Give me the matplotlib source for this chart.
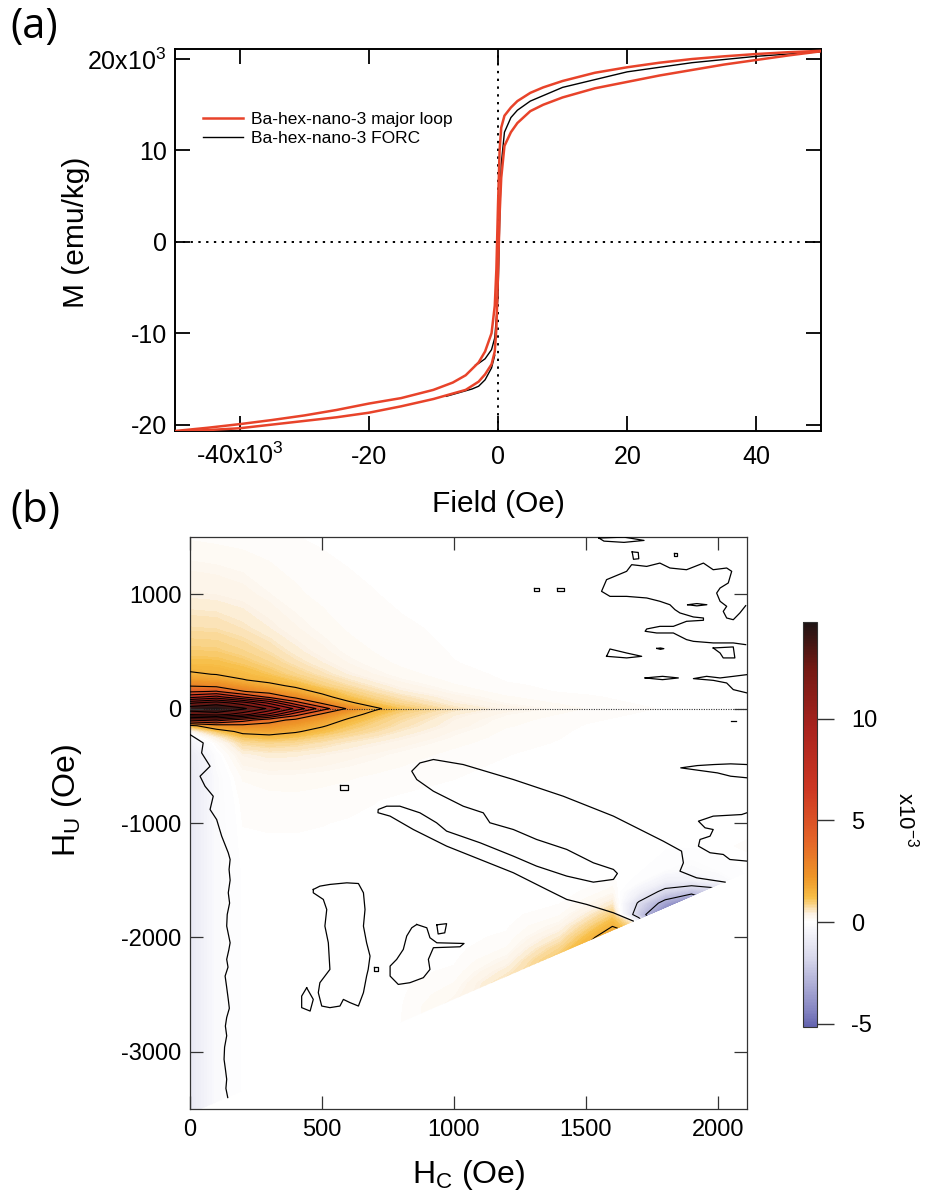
import numpy as np
import matplotlib
matplotlib.use("Agg")
import matplotlib.pyplot as plt
from matplotlib.colors import LinearSegmentedColormap, Normalize
from matplotlib.patches import Polygon
from matplotlib.cm import ScalarMappable

plt.rcParams["font.family"] = ["Liberation Sans", "DejaVu Sans"]
plt.rcParams["mathtext.default"] = "regular"
plt.rcParams["axes.unicode_minus"] = False
plt.rcParams["contour.negative_linestyle"] = "solid"

# ---------------- Panel (a): hysteresis loop (Oe, emu/kg) ----------------
desc_h = [50000, 45000, 40000, 35000, 30000, 25000, 20000, 15000, 10000, 7000, 5000, 3000, 2000,
          1000, 500, 250, 0, -250, -500, -1000, -2000, -3000, -5000, -7000, -10000, -15000,
          -20000, -25000, -30000, -35000, -40000, -45000, -50000]
desc_m = [20900, 20750, 20550, 20300, 20000, 19600, 19100, 18500, 17600, 16900, 16300, 15400, 14700,
          13800, 12500, 10000, 4000, -3000, -7000, -10000, -12000, -13200, -14600, -15400, -16200,
          -17100, -17700, -18400, -19000, -19500, -19950, -20350, -20700]
asc_h = [-50000, -45000, -40000, -35000, -30000, -25000, -20000, -15000, -10000, -7000, -5000, -3000,
         -2000, -1000, -500, -250, 0, 250, 500, 1000, 2000, 3000, 5000, 7000, 10000, 15000, 20000,
         25000, 30000, 35000, 40000, 45000, 50000]
asc_m = [-20750, -20600, -20400, -20000, -19600, -19200, -18700, -18000, -17200, -16600, -16200, -15300,
         -14500, -13400, -12000, -9500, -3500, 3000, 7000, 10500, 12000, 13000, 14300, 15000, 15800,
         16800, 17500, 18200, 18800, 19400, 19900, 20400, 20850]
forc1_h = [-3500, -3000, -2000, -1000, -500, 0, 250, 500, 1000, 2000, 3000, 5000, 10000, 20000,
           30000, 40000, 50000]
forc1_m = [-13500, -13300, -12800, -11800, -10500, -6000, 2000, 8500, 12000, 13600, 14400, 15400,
           16900, 18600, 19600, 20300, 20800]
forc2_h = [-8000, -6000, -5000, -4000, -3000, -2000, -1000, -500]
forc2_m = [-16900, -16500, -16300, -16100, -15800, -15100, -13800, -12400]

a_xticks = [-40000, -20000, 0, 20000, 40000]
a_xticklabels = ["-40x10$^3$", "-20", "0", "20", "40"]
a_yticks = [-20000, -10000, 0, 10000, 20000]
a_yticklabels = ["-20", "-10", "0", "10", "20x10$^3$"]

# ---------------- Panel (b): FORC distribution (x10^-3) ----------------
forc_hc = [0, 100, 200, 300, 400, 500, 600, 700, 800, 1000, 1200, 1400, 1500, 1600, 1700, 1800, 1900, 2000, 2110]
forc_hu = [1500, 1000, 700, 500, 400, 300, 250, 200, 150, 100, 50, 0, -50, -100, -150, -200, -250, -300,
           -400, -600, -800, -1000, -1200, -1400, -1500, -1600, -1700, -1800, -1900, -2000, -2100, -2200,
           -2300, -2400, -2500, -2600, -3000, -3540]
forc_rho = [
    [0.12, 0.10, 0.08, 0.06, 0.04, 0.02, 0.01, 0, 0, 0, 0, 0, 0, 0, 0, 0, 0, 0, 0],
    [0.40, 0.38, 0.33, 0.24, 0.16, 0.10, 0.06, 0.04, 0.02, 0, 0, 0, 0, 0, 0, 0, 0, 0, 0],
    [0.70, 0.68, 0.58, 0.44, 0.30, 0.20, 0.12, 0.08, 0.05, 0.02, 0, 0, 0, 0, 0, 0, 0, 0, 0],
    [1.00, 0.98, 0.85, 0.68, 0.48, 0.32, 0.20, 0.13, 0.08, 0.03, 0.01, 0, 0, 0, 0, 0, 0, 0, 0],
    [1.20, 1.18, 1.05, 0.85, 0.62, 0.44, 0.28, 0.18, 0.11, 0.04, 0.01, 0, 0, 0, 0, 0, 0, 0, 0],
    [1.55, 1.45, 1.30, 1.10, 0.85, 0.62, 0.42, 0.28, 0.18, 0.07, 0.02, 0.01, 0, 0, 0, 0, 0, 0, 0],
    [2.00, 1.90, 1.50, 1.30, 1.05, 0.78, 0.55, 0.38, 0.25, 0.10, 0.03, 0.01, 0, 0, 0, 0, 0, 0, 0],
    [2.85, 2.60, 2.10, 1.65, 1.35, 0.95, 0.70, 0.50, 0.34, 0.15, 0.05, 0.02, 0.01, 0.01, 0, 0, 0, 0, 0],
    [4.20, 4.50, 3.00, 2.40, 1.75, 1.30, 0.92, 0.65, 0.45, 0.22, 0.08, 0.03, 0.02, 0.01, 0, 0, 0, 0, 0],
    [7.00, 8.00, 6.00, 4.20, 2.60, 1.70, 1.15, 0.85, 0.62, 0.33, 0.15, 0.07, 0.05, 0.03, 0.02, 0.01, 0, 0, 0],
    [11.5, 12.5, 11.0, 8.50, 5.00, 2.70, 1.60, 1.10, 0.80, 0.43, 0.22, 0.12, 0.08, 0.05, 0.03, 0.02, 0.01, 0, 0],
    [14.2, 14.7, 13.5, 11.5, 8.50, 5.10, 2.70, 1.60, 1.10, 0.60, 0.35, 0.20, 0.13, 0.08, 0.05, 0.03, 0.02, 0.01, 0],
    [12.0, 12.5, 11.0, 8.50, 5.00, 2.70, 1.80, 1.20, 0.85, 0.45, 0.24, 0.13, 0.08, 0.05, 0.03, 0.02, 0.01, 0, 0],
    [6.00, 6.50, 5.00, 3.50, 2.60, 2.00, 1.35, 0.98, 0.72, 0.38, 0.18, 0.09, 0.05, 0.03, 0.02, 0.01, 0, 0, 0],
    [1.20, 2.20, 2.50, 2.40, 2.00, 1.55, 1.10, 0.85, 0.63, 0.34, 0.15, 0.07, 0.03, 0.02, 0.01, 0, 0, 0, 0],
    [0.20, 1.00, 1.70, 1.80, 1.55, 1.20, 0.90, 0.70, 0.52, 0.27, 0.11, 0.05, 0.02, 0.01, 0, 0, 0, 0, 0],
    [-0.30, 0.40, 1.10, 1.25, 1.10, 0.88, 0.68, 0.55, 0.42, 0.22, 0.09, 0.04, 0.01, 0, 0, 0, 0, 0, 0],
    [-0.60, 0.10, 0.75, 0.85, 0.78, 0.65, 0.52, 0.42, 0.33, 0.17, 0.07, 0.03, 0, 0, 0, 0, 0, 0, 0],
    [-0.90, -0.10, 0.40, 0.48, 0.46, 0.40, 0.33, 0.27, 0.20, 0.10, 0.04, 0.01, 0, 0, 0, 0, 0, 0, 0],
    [-1.00, -0.20, 0.15, 0.20, 0.20, 0.18, 0.15, 0.11, 0.08, 0.04, 0.01, 0, 0, 0, 0, 0, 0, 0, 0],
    [-1.00, -0.20, 0.07, 0.09, 0.10, 0.08, 0.06, 0.04, 0.02, 0.01, 0, 0, 0, 0, 0, 0, 0, 0, 0],
    [-1.00, -0.20, 0.04, 0.05, 0.05, 0.04, 0.03, 0.02, 0.01, 0, 0, 0, 0, 0, 0, 0, 0, 0, 0],
    [-1.00, -0.20, 0.02, 0.02, 0.02, 0.02, 0.01, 0, 0, 0, 0, 0, 0, 0, 0, 0, 0, 0.02, 0.05],
    [-1.00, -0.20, 0, 0, 0, 0, 0, 0, 0, 0, 0, 0, 0, 0, 0, -0.10, -0.20, -0.10, 0],
    [-1.00, -0.20, 0, 0, 0, 0, 0, 0, 0, 0, 0, 0, 0, 0.05, -0.05, -0.60, -0.60, -0.30, 0],
    [-1.00, -0.20, 0, 0, 0, 0, 0, 0, 0, 0, 0, 0, 0.05, 0.20, -0.60, -1.80, -2.40, -2.00, 0],
    [-1.00, -0.20, 0, 0, 0, 0, 0, 0, 0, 0, 0, 0.03, 0.20, 0.50, -1.60, -3.40, -5.00, -3.00, 0],
    [-1.00, -0.20, 0, 0, 0, 0, 0, 0, 0, 0, 0, 0.12, 0.45, 0.95, -2.20, -5.00, -5.00, -3.00, 0],
    [-1.00, -0.20, 0, 0, 0, 0, 0, 0, 0, 0, 0.02, 0.30, 0.80, 1.45, 0.50, -5.00, -5.00, -3.00, 0],
    [-1.00, -0.20, 0, 0, 0, 0, 0, 0, 0, 0, 0.06, 0.55, 1.20, 2.00, 1.60, -5.00, -5.00, -3.00, 0],
    [-1.00, -0.20, 0, 0, 0, 0, 0, 0, 0, 0, 0.15, 0.85, 1.60, 2.00, 1.60, -5.00, -5.00, -3.00, 0],
    [-1.00, -0.20, 0, 0, 0, 0, 0, 0, 0, 0.02, 0.30, 1.15, 1.60, 2.00, 1.60, -5.00, -5.00, -3.00, 0],
    [-1.00, -0.20, 0, 0, 0, 0, 0, 0, 0, 0.06, 0.50, 1.15, 1.60, 2.00, 1.60, -5.00, -5.00, -3.00, 0],
    [-1.00, -0.20, 0, 0, 0, 0, 0, 0, 0.01, 0.14, 0.70, 1.15, 1.60, 2.00, 1.60, -5.00, -5.00, -3.00, 0],
    [-1.00, -0.20, 0, 0, 0, 0, 0, 0, 0.02, 0.22, 0.70, 1.15, 1.60, 2.00, 1.60, -5.00, -5.00, -3.00, 0],
    [-1.00, -0.20, 0, 0, 0, 0, 0, 0.01, 0.03, 0.30, 0.70, 1.15, 1.60, 2.00, 1.60, -5.00, -5.00, -3.00, 0],
    [-1.00, -0.20, 0, 0, 0, 0, 0.01, 0.02, 0.05, 0.30, 0.70, 1.15, 1.60, 2.00, 1.60, -5.00, -5.00, -3.00, 0],
    [-1.00, -0.20, 0, 0, 0, 0.01, 0.02, 0.03, 0.05, 0.30, 0.70, 1.15, 1.60, 2.00, 1.60, -5.00, -5.00, -3.00, 0],
]
# measured domain: Hu >= lower edge line
domain_hc = [0, 2110]
domain_hu_min = [-3540, -1430]
domain_hu_max = 1500

contour_levels = [-2.94, -1.47, 1.47, 2.94, 4.41, 5.88, 7.35, 8.82, 10.29, 11.76, 13.23]
cbar_min, cbar_max = -5.15, 14.75
cbar_ticks = [-5, 0, 5, 10]
cbar_ticklabels = ["-5", "0", "5", "10"]
cmap_values = [-5.15, -4.3, -1.8, 0.0, 0.4, 1.2, 2.2, 4.0, 6.5, 9.5, 12.5, 14.75]
cmap_colors = ["#6464af", "#8787c3", "#d7d7eb", "#ffffff", "#fcf2e4", "#f7be46", "#ee9628",
               "#e46428", "#cd3723", "#aa231e", "#731914", "#1e1414"]

b_xticks = [0, 500, 1000, 1500, 2000]
b_xticklabels = ["0", "500", "1000", "1500", "2000"]
b_yticks = [-3000, -2000, -1000, 0, 1000]
b_yticklabels = ["-3000", "-2000", "-1000", "0", "1000"]

# zero-level (noise) contour paths (Hc, Hu in Oe)
zc_left_hc = [0, 50, 44, 76, 38, 57, 88, 76, 101, 120, 145, 152, 148, 152, 145, 150, 141, 139, 146, 152,
              147, 139, 144, 133, 138, 145, 149, 139, 134, 139, 131, 129, 134, 139, 136, 143]
zc_left_hu = [-227, -300, -387, -504, -591, -679, -766, -882, -970, -1115, -1261, -1319, -1406, -1500,
              -1610, -1700, -1800, -1901, -1980, -2047, -2110, -2192, -2260, -2338, -2420, -2542, -2620,
              -2700, -2775, -2860, -2960, -3066, -3150, -3240, -3320, -3400]
zc_snake_hc = [2027, 1919, 1856, 1869, 1862, 1793, 1604, 1414, 1225, 1035, 922, 871, 840, 859, 922, 1035,
               1111, 1136, 1225, 1313, 1427, 1528, 1604, 1619, 1604, 1528, 1427, 1313, 1225, 1099, 972,
               934, 871, 795, 745, 713, 712, 758, 846, 972, 1099, 1225, 1351, 1427, 1503, 1604, 1679]
zc_snake_hu = [-1517, -1479, -1421, -1348, -1246, -1159, -940, -766, -620, -489, -445, -475, -547, -620,
               -722, -853, -911, -998, -1057, -1144, -1231, -1348, -1406, -1441, -1493, -1517, -1464,
               -1377, -1290, -1173, -1071, -998, -911, -853, -853, -882, -910, -940, -1057, -1202, -1319,
               -1435, -1581, -1668, -1712, -1785, -1857]
zc_island1_hc = [467, 492, 530, 594, 638, 657, 663, 657, 669, 682, 675, 669, 657, 638, 606, 581, 568, 530,
                 499, 486, 492, 530, 524, 511, 518, 505, 467, 467]
zc_island1_hu = [-1581, -1552, -1537, -1523, -1529, -1610, -1756, -1901, -2047, -2163, -2280, -2338, -2483,
                 -2600, -2570, -2542, -2600, -2614, -2600, -2483, -2396, -2280, -2047, -1901, -1756, -1668,
                 -1610, -1581]
zc_oval_hc = [442, 467, 455, 423, 423, 442]
zc_oval_hu = [-2440, -2542, -2644, -2614, -2513, -2440]
zc_dot1_hc = [698, 714, 714, 698, 698]
zc_dot1_hu = [-2262, -2262, -2298, -2298, -2262]
zc_island2_hc = [859, 897, 909, 935, 1038, 1023, 922, 903, 909, 884, 833, 789, 758, 758, 783, 808, 821, 840, 859]
zc_island2_hu = [-1887, -1916, -2003, -2047, -2053, -2082, -2090, -2192, -2280, -2352, -2396, -2411, -2338,
                 -2251, -2192, -2105, -1988, -1916, -1887]
zc_squig_hc = [935, 972, 965, 940, 935]
zc_squig_hu = [-1890, -1880, -1960, -1970, -1890]
zc_blob_hc = [2105, 2083, 2058, 2033, 2020, 2033, 2008, 1995, 2008, 2039, 2052, 2033, 1982, 1945, 1881, 1818,
              1780, 1730, 1673, 1654, 1578, 1559, 1591, 1654, 1730, 1780, 1818, 1837, 1856, 1907, 1945, 1945,
              1881, 1831, 1780, 1730, 1724, 1768, 1831, 1856, 1881, 1907, 1982, 2058, 2105]
zc_blob_hu = [900, 836, 777, 792, 850, 894, 938, 1010, 1054, 1098, 1200, 1229, 1214, 1272, 1214, 1229, 1272,
              1243, 1258, 1200, 1127, 1025, 981, 981, 967, 938, 908, 865, 836, 801, 792, 772, 763, 719, 719,
              696, 676, 661, 661, 632, 603, 588, 574, 574, 559]
zc_dash1_hc = [1885, 1920, 1958, 1920, 1885]
zc_dash1_hu = [908, 918, 908, 898, 908]
zc_tri_hc = [1578, 1591, 1654, 1711, 1654, 1578]
zc_tri_hu = [457, 521, 486, 457, 443, 457]
zc_dash2_hc = [1768, 1782, 1795, 1782, 1768]
zc_dash2_hu = [526, 530, 524, 518, 526]
zc_dash3_hc = [1724, 1790, 1850, 1790, 1724]
zc_dash3_hu = [268, 282, 268, 253, 268]
zc_right1_hc = [2110, 2058, 2008, 1957, 1907, 1982, 2033, 2058, 2110]
zc_right1_hu = [297, 282, 268, 282, 262, 247, 224, 166, 137]
zc_right2_hc = [1982, 2058, 2064, 2020, 2008, 1982]
zc_right2_hu = [530, 539, 443, 443, 486, 530]
zc_right3_hc = [2110, 2048, 1985, 1922, 1859, 1922, 1998, 2048, 2110]
zc_right3_hu = [-489, -483, -489, -498, -518, -538, -562, -591, -605]
zc_right4_hc = [2109, 2090, 1982, 1926, 1951, 1982, 1970, 1932, 1926, 1970, 2020, 2045, 2109]
zc_right4_hu = [-911, -926, -940, -984, -1042, -1057, -1115, -1144, -1202, -1260, -1275, -1319, -1333]
zc_top1_hc = [1549, 1644, 1720, 1644, 1568, 1549]
zc_top1_hu = [1491, 1499, 1470, 1453, 1464, 1491]
zc_top2_hc = [1675, 1698, 1700, 1680, 1675]
zc_top2_hu = [1370, 1365, 1310, 1305, 1370]
zc_top3_hc = [1832, 1846, 1846, 1832, 1832]
zc_top3_hu = [1360, 1360, 1330, 1330, 1360]
zc_top4_hc = [1303, 1322, 1322, 1303, 1303]
zc_top4_hu = [1050, 1050, 1028, 1028, 1050]
zc_top5_hc = [1390, 1417, 1417, 1390, 1390]
zc_top5_hu = [1052, 1052, 1026, 1026, 1052]
zc_dot2_hc = [570, 600, 600, 570, 570]
zc_dot2_hu = [-672, -672, -708, -708, -672]
zc_dash4_hc = [2048, 2068]
zc_dash4_hu = [-105, -105]

noise_paths = [(zc_left_hc, zc_left_hu), (zc_snake_hc, zc_snake_hu), (zc_island1_hc, zc_island1_hu),
               (zc_oval_hc, zc_oval_hu), (zc_dot1_hc, zc_dot1_hu), (zc_island2_hc, zc_island2_hu),
               (zc_squig_hc, zc_squig_hu), (zc_blob_hc, zc_blob_hu), (zc_dash1_hc, zc_dash1_hu),
               (zc_tri_hc, zc_tri_hu), (zc_dash2_hc, zc_dash2_hu), (zc_dash3_hc, zc_dash3_hu),
               (zc_right1_hc, zc_right1_hu), (zc_right2_hc, zc_right2_hu), (zc_right3_hc, zc_right3_hu),
               (zc_right4_hc, zc_right4_hu), (zc_top1_hc, zc_top1_hu), (zc_top2_hc, zc_top2_hu),
               (zc_top3_hc, zc_top3_hu), (zc_top4_hc, zc_top4_hu), (zc_top5_hc, zc_top5_hu),
               (zc_dot2_hc, zc_dot2_hu), (zc_dash4_hc, zc_dash4_hu)]

# ---------------- Figure ----------------
W, H = 928, 1197
fig = plt.figure(figsize=(W / 100, H / 100), dpi=100)
ax_a = fig.add_axes([175 / W, 1 - 431 / H, 646 / W, 382 / H])
ax_b = fig.add_axes([190 / W, 1 - 1109 / H, 557 / W, 572 / H])
cax = fig.add_axes([803 / W, 1 - 1027 / H, 14 / W, 405 / H])

# ---- panel (a)
red = "#e8432a"
ax_a.axhline(0, color="k", lw=1.4, ls=(0, (1.2, 2.8)), zorder=1)
ax_a.axvline(0, color="k", lw=1.4, ls=(0, (1.2, 2.8)), zorder=1)
hf, = ax_a.plot(forc1_h, forc1_m, color="k", lw=1.0, zorder=2)
ax_a.plot(forc2_h, forc2_m, color="k", lw=1.0, zorder=2)
hm, = ax_a.plot(desc_h, desc_m, color=red, lw=1.8, zorder=3)
ax_a.plot(asc_h, asc_m, color=red, lw=1.8, zorder=3)
ax_a.set_xlim(-50000, 50000)
ax_a.set_ylim(-20700, 21100)
ax_a.set_xticks(a_xticks)
ax_a.set_xticklabels(a_xticklabels)
ax_a.set_yticks(a_yticks)
ax_a.set_yticklabels(a_yticklabels)
ax_a.tick_params(direction="in", length=11, width=1.3, top=True, right=True, labelsize=18, color="k")
ax_a.tick_params(axis="x", pad=24)
ax_a.tick_params(axis="y", pad=6)
for lab in ax_a.get_xticklabels():
    lab.set_verticalalignment("baseline")
for s in ax_a.spines.values():
    s.set_linewidth(1.4)
ax_a.set_xlabel("Field (Oe)", fontsize=21.5)
ax_a.xaxis.set_label_coords(0.5, -0.155)
ax_a.xaxis.label.set_verticalalignment("top")
ax_a.set_ylabel("M (emu/kg)", fontsize=21.5)
ax_a.yaxis.set_label_coords(-0.132, 0.52)
leg = ax_a.legend([hm, hf], ["Ba-hex-nano-3 major loop", "Ba-hex-nano-3 FORC"], loc="upper left",
                  bbox_to_anchor=(0.043, 0.835), frameon=False, fontsize=12.5, handlelength=2.3,
                  handletextpad=0.5, borderpad=0, borderaxespad=0, labelspacing=0.2)

# ---- panel (b)
span = cbar_max - cbar_min
cmap = LinearSegmentedColormap.from_list(
    "forc", [((v - cbar_min) / span, c) for v, c in zip(cmap_values, cmap_colors)])
norm = Normalize(vmin=cbar_min, vmax=cbar_max)
HC, HU = np.meshgrid(forc_hc, forc_hu)
Z = np.array(forc_rho)

domain_poly = Polygon([[domain_hc[0], domain_hu_max], [domain_hc[1], domain_hu_max],
                       [domain_hc[1], domain_hu_min[1]], [domain_hc[0], domain_hu_min[0]]],
                      closed=True, transform=ax_b.transData, facecolor="none", edgecolor="none")

cf = ax_b.contourf(HC, HU, Z, levels=np.linspace(cbar_min, cbar_max, 400), cmap=cmap, norm=norm,
                   antialiased=False, zorder=1)
cf.set_clip_path(domain_poly)
cl = ax_b.contour(HC, HU, Z, levels=contour_levels, colors="k", linewidths=0.8, zorder=3)
cl.set_clip_path(domain_poly)
ax_b.axhline(0, color="#333333", lw=0.8, ls=(0, (1, 1.2)), zorder=2)
for phc, phu in noise_paths:
    ax_b.plot(phc, phu, color="k", lw=0.9, zorder=4)

ax_b.set_xlim(0, 2110)
ax_b.set_ylim(-3500, 1500)
ax_b.set_xticks(b_xticks)
ax_b.set_xticklabels(b_xticklabels)
ax_b.set_yticks(b_yticks)
ax_b.set_yticklabels(b_yticklabels)
ax_b.tick_params(direction="in", length=9.5, width=0.9, top=True, right=True, labelsize=17, color="#333333")
ax_b.tick_params(axis="x", pad=7)
ax_b.tick_params(axis="y", pad=6)
for s in ax_b.spines.values():
    s.set_linewidth(0.9)
    s.set_color("#333333")
ax_b.set_xlabel("H$_C$ (Oe)", fontsize=23)
ax_b.xaxis.set_label_coords(0.5, -0.086)
ax_b.xaxis.label.set_verticalalignment("top")
ax_b.set_ylabel("H$_U$ (Oe)", fontsize=23)
ax_b.yaxis.set_label_coords(-0.19, 0.54)

cb = fig.colorbar(ScalarMappable(norm=norm, cmap=cmap), cax=cax, ticks=cbar_ticks)
cb.set_ticklabels(cbar_ticklabels)
cb.outline.set_linewidth(0.8)
cb.outline.set_edgecolor("#333333")
cax.tick_params(direction="out", length=12, width=1.0, pad=12.5, labelsize=17, color="#333333")
fig.text(906 / W, 1 - 820 / H, "x10$^{-3}$", rotation=270, fontsize=16, ha="center", va="center")

fig.text(10 / W, 1 - 6 / H, "(a)", fontsize=30, family=["Open Sans", "DejaVu Sans"], ha="left", va="top")
fig.text(10 / W, 1 - 490 / H, "(b)", fontsize=30, family=["Open Sans", "DejaVu Sans"], ha="left", va="top")

fig.savefig("out.png", dpi=100)
